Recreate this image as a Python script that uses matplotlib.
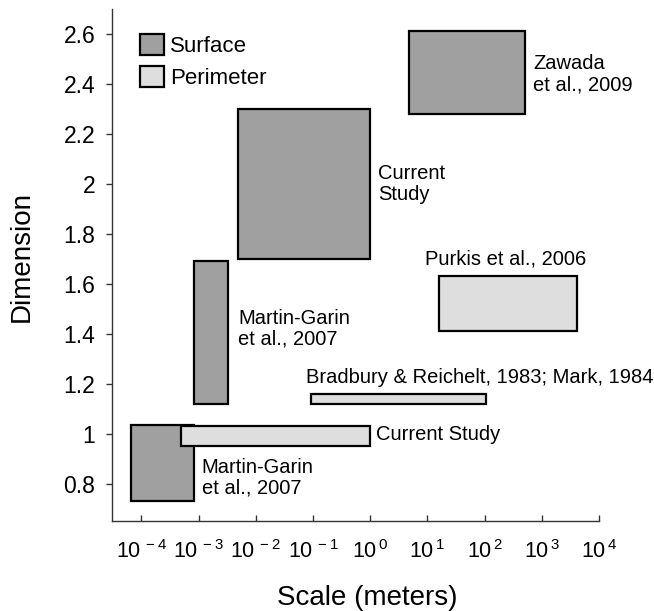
import matplotlib
matplotlib.use("Agg")
import matplotlib.pyplot as plt
from matplotlib.patches import Patch
from matplotlib.ticker import FixedLocator, FixedFormatter, NullLocator

plt.rcParams['font.family'] = ['Liberation Sans', 'DejaVu Sans']
plt.rcParams['mathtext.fontset'] = 'custom'
plt.rcParams['mathtext.rm'] = 'Liberation Sans'

# ---- data ----
kinds = ['Surface', 'Perimeter', 'Surface', 'Perimeter', 'Surface', 'Perimeter', 'Surface']
x_lo = [10**-4.19, 10**-3.31, 10**-3.08, 10**-1.04, 10**-2.31, 10**1.20, 10**0.68]
x_hi = [10**-3.08, 10**0.0, 10**-2.49, 10**2.03, 10**0.0, 10**3.62, 10**2.70]
y_lo = [0.73, 0.95, 1.12, 1.12, 1.70, 1.41, 2.28]
y_hi = [1.035, 1.03, 1.69, 1.16, 2.30, 1.63, 2.61]

labels = ['Martin-Garin\net al., 2007', 'Current Study', 'Martin-Garin\net al., 2007',
          'Bradbury & Reichelt, 1983; Mark, 1984', 'Current\nStudy',
          'Purkis et al., 2006', 'Zawada\net al., 2009']

x_ticks = [1e-4, 1e-3, 1e-2, 1e-1, 1e0, 1e1, 1e2, 1e3, 1e4]
x_tick_labels = [r'$\mathregular{10^{\,-4}}$', r'$\mathregular{10^{\,-3}}$', r'$\mathregular{10^{\,-2}}$',
                 r'$\mathregular{10^{\,-1}}$', r'$\mathregular{10^{\,0}}$', r'$\mathregular{10^{\,1}}$',
                 r'$\mathregular{10^{\,2}}$', r'$\mathregular{10^{\,3}}$', r'$\mathregular{10^{\,4}}$']
y_ticks = [0.8, 1.0, 1.2, 1.4, 1.6, 1.8, 2.0, 2.2, 2.4, 2.6]
y_tick_labels = ['0.8', '1', '1.2', '1.4', '1.6', '1.8', '2', '2.2', '2.4', '2.6']

colors = {'Surface': '#a0a0a0', 'Perimeter': '#dedede'}

# ---- figure ----
fig = plt.figure(figsize=(6.54, 6.11), dpi=100)
ax = fig.add_axes([112/654, 1-521/611, (599-112)/654, (521-9)/611])
ax.set_xscale('log')

for k, a, b, c, d in zip(kinds, x_lo, x_hi, y_lo, y_hi):
    ax.bar(a, d - c, width=b - a, bottom=c, align='edge',
           color=colors[k], edgecolor='black', linewidth=1.6, zorder=2)

# annotations
ann_pos = [(10**-2.946, 0.823), (10**0.10, 0.995), (10**-2.306, 1.42),
           (10**-1.12, 1.226), (10**0.14, 2.0), (10**2.37, 1.698), (10**2.85, 2.44)]
ann_ha = ['left', 'left', 'left', 'left', 'left', 'center', 'left']
for txt, (px, py), ha in zip(labels, ann_pos, ann_ha):
    ax.text(px, py, txt, ha=ha, va='center', fontsize=14.5, linespacing=1.15, zorder=3)

ax.set_xlim(10**-4.514, 1e4)
ax.set_ylim(0.65, 2.70)

ax.xaxis.set_major_locator(FixedLocator(x_ticks))
ax.xaxis.set_major_formatter(FixedFormatter(x_tick_labels))
ax.xaxis.set_minor_locator(NullLocator())
ax.yaxis.set_major_locator(FixedLocator(y_ticks))
ax.yaxis.set_major_formatter(FixedFormatter(y_tick_labels))

for s in ['top', 'right']:
    ax.spines[s].set_visible(False)
for s in ['left', 'bottom']:
    ax.spines[s].set_color('#333333')
    ax.spines[s].set_linewidth(1.0)

ax.tick_params(axis='x', direction='in', length=4, width=1, color='#333333',
               labelsize=15.5, pad=14)
ax.tick_params(axis='y', direction='out', length=4, width=1, color='#333333',
               labelsize=16.5, pad=8)

ax.set_xlabel('Scale (meters)', fontsize=20)
ax.xaxis.set_label_coords(0.524, -0.125)
ax.set_ylabel('Dimension', fontsize=20)
ax.yaxis.set_label_coords(-0.158, 0.516)

handles = [Patch(facecolor=colors['Surface'], edgecolor='black', linewidth=1.6),
           Patch(facecolor=colors['Perimeter'], edgecolor='black', linewidth=1.6)]
ax.legend(handles, ['Surface', 'Perimeter'], loc='upper left',
          bbox_to_anchor=((140-112)/487, (521-34)/512), frameon=False,
          fontsize=16, handlelength=1.1, handleheight=1.1,
          handletextpad=0.25, labelspacing=0.4, borderpad=0, borderaxespad=0)

fig.savefig('out.png', dpi=100, facecolor='white')
